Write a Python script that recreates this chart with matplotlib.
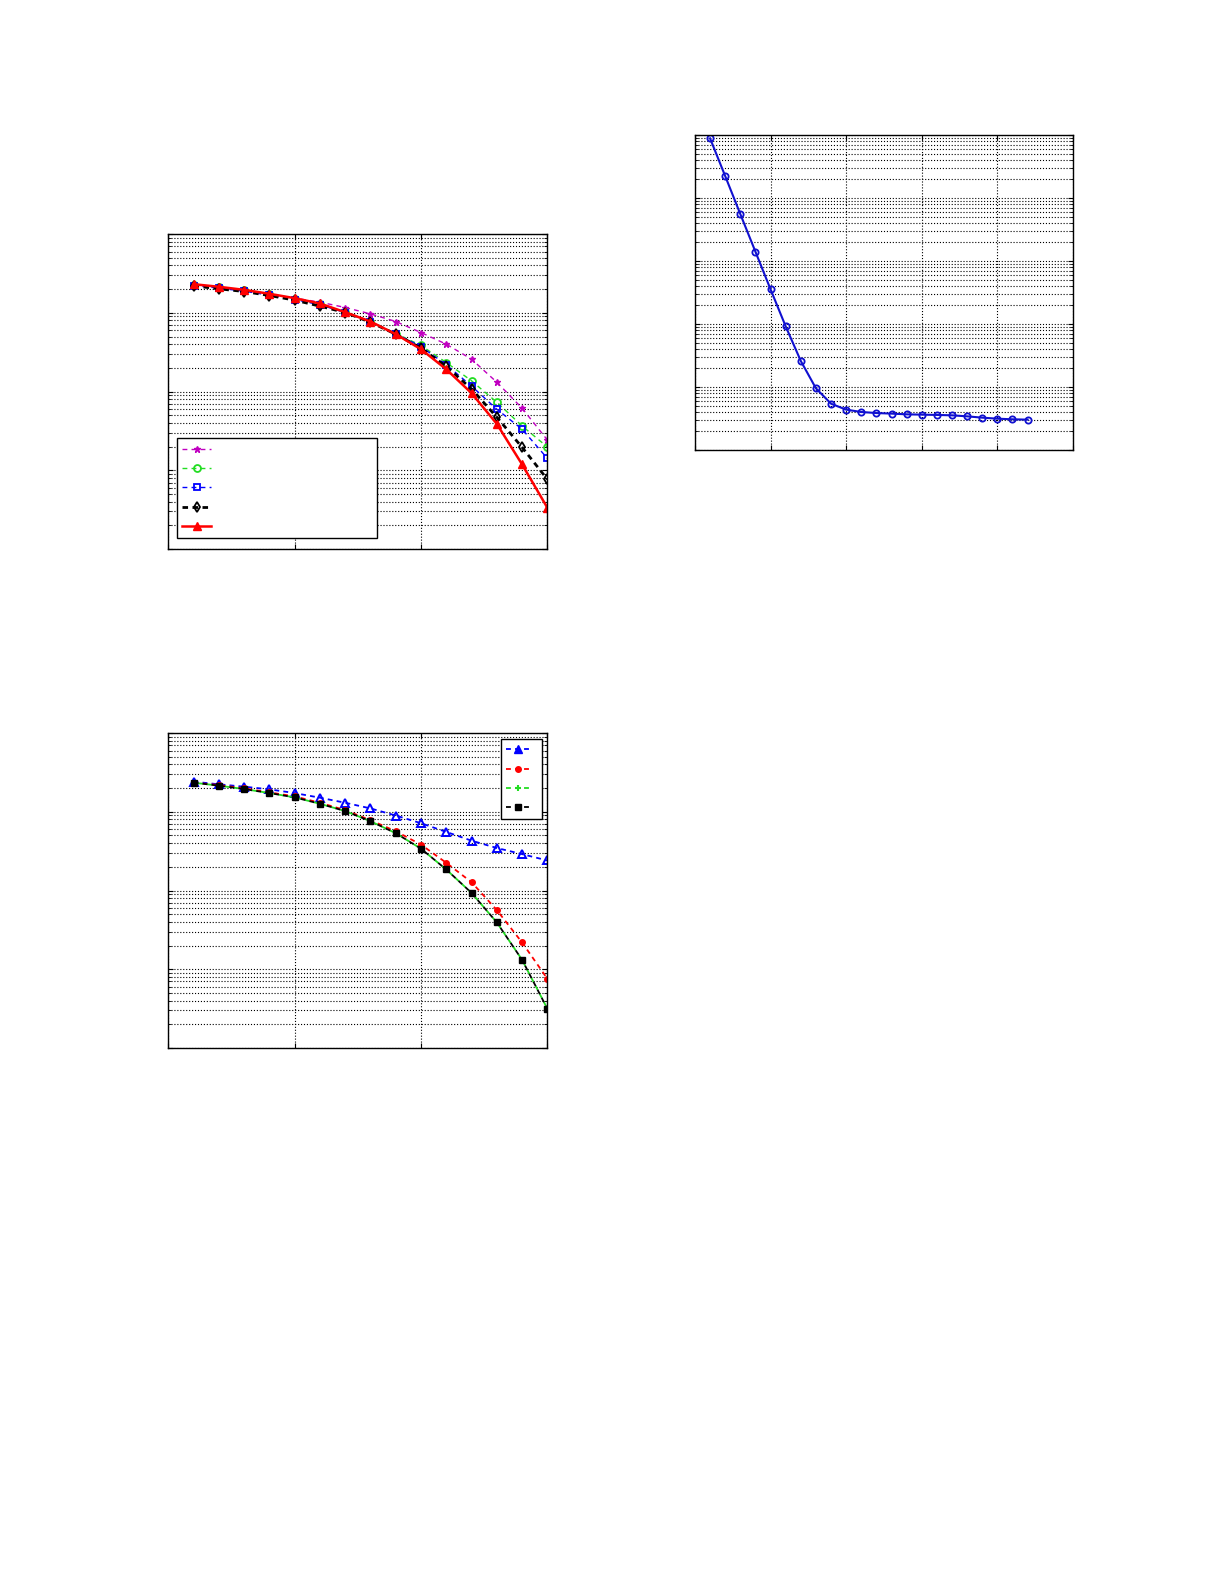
import matplotlib
matplotlib.use('Agg')
import matplotlib.pyplot as plt
from matplotlib.lines import Line2D

# --- top-left panel: BER-like curves, x = 1..15 ---
snr_a = list(range(1, 16))
ber_mag = [0.2270, 0.2099, 0.1941, 0.1726, 0.1535, 0.1368, 0.1169, 0.0970, 0.0776, 0.0562,
           0.0400, 0.0258, 0.01315, 0.00615, 0.00243]
ber_grn = [0.2270, 0.2099, 0.1923, 0.1710, 0.1507, 0.1288, 0.1019, 0.0776, 0.0546, 0.0385,
           0.0234, 0.0137, 0.00733, 0.00366, 0.00198]
ber_blu = [0.2223, 0.2061, 0.1884, 0.1679, 0.1476, 0.1265, 0.1009, 0.0769, 0.0541, 0.0373,
           0.0219, 0.01175, 0.00597, 0.00333, 0.00142]
ber_blk = [0.2203, 0.2018, 0.1866, 0.1660, 0.1449, 0.1216, 0.1009, 0.0760, 0.0536, 0.0356,
           0.0209, 0.0108, 0.00473, 0.00196, 0.000769]
ber_red = [0.2312, 0.2143, 0.1959, 0.1746, 0.1535, 0.1315, 0.1019, 0.0776, 0.0536, 0.0345,
           0.0192, 0.00955, 0.00389, 0.00119, 0.000335]

# --- bottom-left panel ---
snr_b = list(range(1, 16))
ber2_blu = [0.2415, 0.2234, 0.2084, 0.1928, 0.1730, 0.1510, 0.1303, 0.1104, 0.0897, 0.0716,
            0.0555, 0.0430, 0.0347, 0.0290, 0.0241]
ber2_red = [0.2344, 0.2188, 0.1986, 0.1766, 0.1570, 0.1303, 0.1050, 0.0783, 0.0566, 0.0383,
            0.0225, 0.01276, 0.00565, 0.00219, 0.000759]
ber2_grn = [0.2344, 0.2148, 0.1945, 0.1730, 0.1524, 0.1265, 0.1021, 0.0760, 0.0535, 0.0340,
            0.0185, 0.00933, 0.00394, 0.00132, 0.000316]
ber2_blk = [0.2344, 0.2148, 0.1945, 0.1730, 0.1524, 0.1265, 0.1021, 0.0760, 0.0535, 0.0340,
            0.0185, 0.00933, 0.00394, 0.00132, 0.000316]

# --- top-right panel: convergence curve, iterations 1..22 ---
iters = list(range(1, 23))
err = [0.885, 0.2234, 0.0557, 0.01406, 0.00355, 0.000918, 0.000259, 9.53e-5, 5.43e-5, 4.37e-5,
       4.01e-5, 3.86e-5, 3.78e-5, 3.68e-5, 3.64e-5, 3.60e-5, 3.55e-5, 3.42e-5, 3.26e-5, 3.14e-5,
       3.07e-5, 3.03e-5]

MAG = '#c000c0'
GRN = '#22dd22'
DASH_THIN = (0, (3.5, 3))
DASH_MID = (0, (2.7, 2.3))
DASH_THICK = (0, (2, 1.6))


def style_axes(ax, xmax, xstep, ylo, yhi):
    ax.set_yscale('log')
    ax.set_xlim(0, xmax)
    ax.set_ylim(ylo, yhi)
    ax.set_xticks(range(0, xmax + 1, xstep))
    ax.grid(True, which='major', axis='x', linestyle=':', color='k', linewidth=0.8)
    ax.grid(True, which='both', axis='y', linestyle=':', color='k', linewidth=0.8)
    ax.tick_params(which='both', direction='in', top=True, right=True,
                   labelleft=False, labelbottom=False)
    for sp in ax.spines.values():
        sp.set_linewidth(1.0)
    ax.set_axisbelow(True)


fig = plt.figure(figsize=(12.25, 15.85), dpi=100)

ax1 = fig.add_axes([0.1374, 0.6536, 0.3094, 0.1987])
ax2 = fig.add_axes([0.1374, 0.3388, 0.3094, 0.1987])
ax3 = fig.add_axes([0.5673, 0.7161, 0.3086, 0.1987])

# panel 1
style_axes(ax1, 15, 5, 1e-4, 1e0)
l1, = ax1.plot(snr_a, ber_mag, linestyle=DASH_THIN, color=MAG, lw=1.0, marker='*', ms=5,
               mfc=MAG, mec=MAG)
l2, = ax1.plot(snr_a, ber_grn, linestyle=DASH_THIN, color=GRN, lw=1.0, marker='o', ms=5,
               mfc='none', mec=GRN, mew=1.3)
l3, = ax1.plot(snr_a, ber_blu, linestyle=DASH_THIN, color='b', lw=1.0, marker='s', ms=5,
               mfc='none', mec='b', mew=1.3)
l4, = ax1.plot(snr_a, ber_blk, linestyle=DASH_THICK, color='k', lw=2.0, marker='d', ms=5,
               mfc='none', mec='k', mew=1.3)
l5, = ax1.plot(snr_a, ber_red, '-', color='r', lw=1.8, marker='^', ms=6, mfc='r', mec='r')
leg1 = ax1.legend([l1, l2, l3, l4, l5], [' '] * 5, loc='lower left', mode='expand',
                  bbox_to_anchor=(0.024, 0.034, 0.526, 0.328), borderaxespad=0,
                  fontsize=9, labelspacing=0.5, handlelength=2.3, fancybox=False,
                  framealpha=1, edgecolor='k')
leg1.get_frame().set_linewidth(1.0)

# panel 2
style_axes(ax2, 15, 5, 1e-4, 1e0)
m1, = ax2.plot(snr_b, ber2_blu, linestyle=DASH_MID, color='b', lw=1.3, marker='^', ms=6,
               mfc='none', mec='b', mew=1.4)
m2, = ax2.plot(snr_b, ber2_red, linestyle=DASH_MID, color='r', lw=1.3, marker='o', ms=4,
               mfc='r', mec='r')
m3, = ax2.plot(snr_b, ber2_grn, linestyle=(2.5, (2.7, 2.3)), color=GRN, lw=1.3, marker='+',
               ms=3.5, mec=GRN, mew=1.0)
m4, = ax2.plot(snr_b, ber2_blk, linestyle=DASH_MID, color='k', lw=1.3, marker='s', ms=5,
               mfc='k', mec='k')
h1 = Line2D([], [], linestyle=DASH_MID, color='b', lw=1.3, marker='^', ms=6, mfc='b', mec='b')
h3 = Line2D([], [], linestyle=DASH_MID, color=GRN, lw=1.3, marker='+', ms=5, mec=GRN, mew=1.5)
leg2 = ax2.legend([h1, m2, h3, m4], [' '] * 4, loc='upper right', fontsize=9,
                  labelspacing=0.5, handlelength=1.9, handletextpad=0.2, fancybox=False,
                  framealpha=1, edgecolor='k', borderaxespad=0.45)
leg2.get_frame().set_linewidth(1.0)

# panel 3
style_axes(ax3, 25, 5, 1e-5, 1e0)
ax3.plot(iters, err, '-', color='#1010d0', lw=1.5, marker='o', ms=4.5, mfc='none',
         mec='#1010d0', mew=1.3)

fig.savefig('out.png', dpi=100)
